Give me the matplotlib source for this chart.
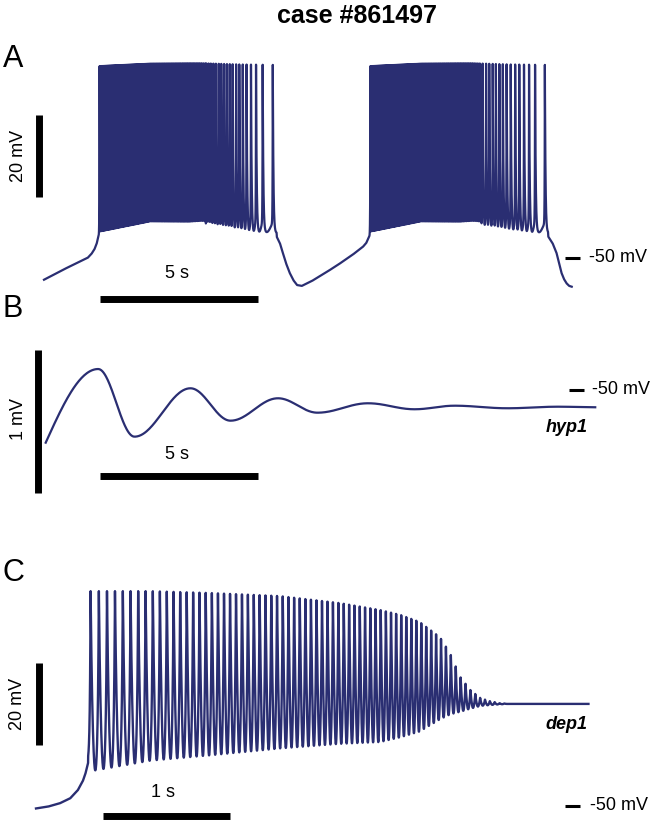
import numpy as np
import matplotlib.pyplot as plt

plt.rcParams['font.family'] = ['Liberation Sans', 'DejaVu Sans']

W, H = 660, 827
NAVY = '#2a2e72'

# ---- panel A: bursting (times in s, voltages in mV) ----
a_pre_t = [0.0, 0.7, 1.39, 1.51, 1.60, 1.67, 1.72]
a_pre_v = [-55.3, -52.5, -49.9, -48.9, -47.8, -46.4, -44.8]
a_onsets = [1.76, 10.33]
# dense part ISI (relative to burst onset)
a_isi_rel = [0.0, 1.5, 2.8, 3.4]
a_isi = [0.030, 0.036, 0.046, 0.062]
a_tail1 = [5.14, 5.21, 5.28, 5.36, 5.44, 5.53, 5.61, 5.70, 5.79, 5.88,
           5.97, 6.08, 6.18, 6.29, 6.41, 6.55, 6.71, 6.92, 7.24]
a_tail2 = [13.88, 13.99, 14.09, 14.20, 14.30, 14.41, 14.52, 14.64, 14.77,
           14.91, 15.04, 15.19, 15.35, 15.54, 15.85]
a_env_rel = [0.0, 1.6, 3.2, 4.45, 5.5]
a_trough = [-43.7, -41.4, -41.9, -43.1, -43.9]
a_peak = [-3.2, -2.6, -2.5, -2.8, -2.9]
a_gap_t = [7.37, 7.47, 7.56, 7.67, 7.78, 7.90, 8.01, 8.16, 8.5, 9.05,
           9.37, 9.8, 10.10, 10.20, 10.29]
a_gap_v = [-44.9, -46.5, -48.8, -51.5, -53.7, -55.5, -56.6, -56.8, -55.5,
           -52.9, -51.3, -49.0, -47.2, -46.3, -44.8]
a_end_t = [15.96, 16.10, 16.22, 16.30, 16.38, 16.46, 16.54, 16.62, 16.70]
a_end_v = [-44.8, -46.5, -48.8, -51.3, -53.7, -55.2, -56.2, -56.8, -57.0]

# ---- panel B: hyp1 damped oscillation (extrema) ----
b_t = [0.0, 1.66, 2.81, 4.58, 5.85, 7.35, 8.60, 10.20, 11.67, 12.94,
       14.61, 16.21, 17.39]
b_v = [-50.369, -49.853, -50.327, -49.988, -50.215, -50.058, -50.159,
       -50.093, -50.135, -50.110, -50.128, -50.117, -50.121]

# ---- panel C: dep1 ----
c_pre_t = [0.0, 0.10, 0.19, 0.27, 0.33, 0.37, 0.39, 0.41]
c_pre_v = [-50.6, -50.1, -49.3, -48.1, -46.1, -43.8, -42.0, -39.5]
c_first, c_last, c_end = 0.43, 3.73, 4.35
c_isi_rel = [0.0, 0.31, 0.47, 0.66, 0.94, 1.49, 2.04, 2.59, 3.22]
c_isi = [0.065, 0.060, 0.056, 0.052, 0.048, 0.045, 0.042, 0.039, 0.038]
c_env_t = [0.40, 0.90, 1.37, 1.92, 2.39, 2.71, 2.87, 3.02, 3.18, 3.26,
           3.34, 3.42, 3.50, 3.57, 3.65, 3.73]
c_peak = [2.4, 2.4, 1.95, 1.2, -0.5, -2.2, -3.4, -5.1, -8.8, -12.7,
          -18.5, -21.7, -23.7, -24.4, -24.9, -25.1]
c_trough = [-42.0, -39.3, -38.0, -36.3, -35.1, -34.6, -33.4, -32.0, -29.0,
            -27.8, -27.1, -26.3, -25.6, -25.4, -25.2, -25.1]
c_rest = -25.1


def step_times(start, stop, knots, isis):
    out = [start]
    while True:
        d = np.interp(out[-1] - start, knots, isis)
        if out[-1] + d > stop - 0.5 * d:
            break
        out.append(out[-1] + d)
    return out


def spike_wave(times, pk_fn, tr_fn, tau_f, tau_r, ramp, dt, tail=0.0):
    ts, vs = [], []
    for k in range(len(times) - 1):
        t0, t1 = times[k], times[k + 1]
        T = t1 - t0
        tf, tr_ = min(tau_f, T / 3), min(tau_r, T / 5)
        s = np.arange(0, T, dt)
        tt = t0 + s
        tr = tr_fn(tt)
        v = tr + ramp * (s / T) ** 2 + (pk_fn(tt) - tr) * np.exp(-s / tf)
        v = v + (pk_fn(t1) - v) * np.exp(-(T - s) / tr_)
        # pull the interval minimum down onto the trough envelope
        i = np.argmin(v)
        v = v - (v[i] - tr[i]) * np.sin(np.pi * s / T) ** 2
        ts.append(tt)
        vs.append(v)
    s = np.arange(0, tail, dt)
    tt = times[-1] + s
    tr = tr_fn(tt)
    ts.append(tt)
    vs.append(tr + (pk_fn(tt) - tr) * np.exp(-s / tau_f))
    return np.concatenate(ts), np.concatenate(vs)


def upstroke(t_from, v_from, t_spk, pk, tau_r, dt):
    tt = np.arange(t_from, t_spk, dt)
    return tt, v_from + (pk - v_from) * np.exp(-(t_spk - tt) / tau_r)


def panel(top, bottom, x0, px_s, vref_px, px_mv):
    ax = fig.add_axes([0, 1 - bottom / H, 1, (bottom - top) / H])
    ax.set_xlim(-x0 / px_s, (W - x0) / px_s)
    ax.set_ylim(-50 - (bottom - vref_px) / px_mv, -50 + (vref_px - top) / px_mv)
    ax.axis('off')
    return ax


fig = plt.figure(figsize=(6.6, 8.27), dpi=100)
fig.text(357 / W, 1 - 16 / H, 'case #861497', ha='center', va='center',
         fontsize=18, fontweight='bold')

# ---------------- A ----------------
ax = panel(40, 310, 44, 31.6, 258, 4.1)
parts_t, parts_v = [np.array(a_pre_t)], [np.array(a_pre_v)]
ends = [(a_gap_t, a_gap_v), (a_end_t, a_end_v)]
for onset, tail, (gt, gv) in zip(a_onsets, [a_tail1, a_tail2], ends):
    pk_fn = lambda t, o=onset: np.interp(t - o, a_env_rel, a_peak)
    tr_fn = lambda t, o=onset: np.interp(t - o, a_env_rel, a_trough)
    times = step_times(onset, tail[0], a_isi_rel, a_isi) + list(tail)
    ut, uv = upstroke(parts_t[-1][-1], parts_v[-1][-1], onset,
                      pk_fn(onset), 0.006, 0.0005)
    st, sv = spike_wave(times, pk_fn, tr_fn, 0.02, 0.006, 2.5, 0.0005,
                        tail=gt[0] - times[-1] - 0.01)
    parts_t += [ut, st, np.array(gt)]
    parts_v += [uv, sv, np.array(gv)]
ax.plot(np.concatenate(parts_t), np.concatenate(parts_v), color=NAVY, lw=1.6)

ax.plot([-0.165, -0.165], [-15.1, -35.1], color='k', lw=5, solid_capstyle='butt')
ax.text(-0.82, -25.1, '20 mV', rotation=90, ha='center', va='center', fontsize=13)
ax.plot([1.772, 6.772], [-60.0, -60.0], color='k', lw=5, solid_capstyle='butt')
ax.text(4.21, -53.9, '5 s', ha='center', va='center', fontsize=13)
ax.plot([16.49, 16.96], [-50, -50], color='k', lw=2.2, solid_capstyle='butt')
ax.text(17.25, -50, '-50 mV', ha='left', va='center', fontsize=13)
ax.text(-0.98, -1.46, 'A', ha='center', va='center', fontsize=22)

# ---------------- B ----------------
ax = panel(300, 500, 45.7, 31.6, 390, 142.7)
bt, bv = [], []
for k in range(len(b_t) - 1):
    tt = np.linspace(b_t[k], b_t[k + 1], 60, endpoint=False)
    u = (tt - b_t[k]) / (b_t[k + 1] - b_t[k])
    if k == 0:
        w = np.sin(0.5 * np.pi * u)
    else:
        w = 0.5 - 0.5 * np.cos(np.pi * u)
    bt.append(tt)
    bv.append(b_v[k] + (b_v[k + 1] - b_v[k]) * w)
bt.append([b_t[-1]])
bv.append([b_v[-1]])
ax.plot(np.concatenate(bt), np.concatenate(bv), color=NAVY, lw=1.6)

ax.plot([-0.244, -0.244], [-49.72, -50.72], color='k', lw=5, solid_capstyle='butt')
ax.text(-0.845, -50.203, '1 mV', rotation=90, ha='center', va='center', fontsize=13)
ax.plot([1.718, 6.718], [-50.606, -50.606], color='k', lw=5, solid_capstyle='butt')
ax.text(4.155, -50.449, '5 s', ha='center', va='center', fontsize=13)
ax.plot([16.56, 17.04], [-50, -50], color='k', lw=2.2, solid_capstyle='butt')
ax.text(17.29, -50, '-50 mV', ha='left', va='center', fontsize=13)
ax.text(17.16, -50.266, 'hyp1', ha='right', va='center', fontsize=13,
        fontweight='bold', fontstyle='italic')
ax.text(-1.035, -49.43, 'B', ha='center', va='center', fontsize=22)

# ---------------- C ----------------
ax = panel(550, 827, 36, 127, 806, 4.1)
pk_fn = lambda t: np.interp(t, c_env_t, c_peak)
tr_fn = lambda t: np.interp(t, c_env_t, c_trough)
times = step_times(c_first, c_last, c_isi_rel, c_isi)
ut, uv = upstroke(c_pre_t[-1], c_pre_v[-1], c_first, pk_fn(c_first), 0.006, 0.0002)
st, sv = spike_wave(times, pk_fn, tr_fn, 0.015, 0.008, 0.0, 0.0002,
                    tail=c_last - times[-1])
ct = np.concatenate([c_pre_t, ut, st, [c_end]])
cv = np.concatenate([c_pre_v, uv, sv, [c_rest]])
ax.plot(ct, cv, color=NAVY, lw=1.7)

ax.plot([0.022, 0.022], [-15.1, -35.1], color='k', lw=5, solid_capstyle='butt')
ax.text(-0.142, -25.1, '20 mV', rotation=90, ha='center', va='center', fontsize=13)
ax.plot([0.528, 1.528], [-52.44, -52.44], color='k', lw=5, solid_capstyle='butt')
ax.text(1.0, -46.8, '1 s', ha='center', va='center', fontsize=13)
ax.plot([4.165, 4.283], [-50, -50], color='k', lw=2.2, solid_capstyle='butt')
ax.text(4.362, -50, '-50 mV', ha='left', va='center', fontsize=13)
ax.text(4.339, -30.24, 'dep1', ha='right', va='center', fontsize=13,
        fontweight='bold', fontstyle='italic')
ax.text(-0.181, 6.83, 'C', ha='center', va='center', fontsize=22)

fig.savefig('out.png', dpi=100)
